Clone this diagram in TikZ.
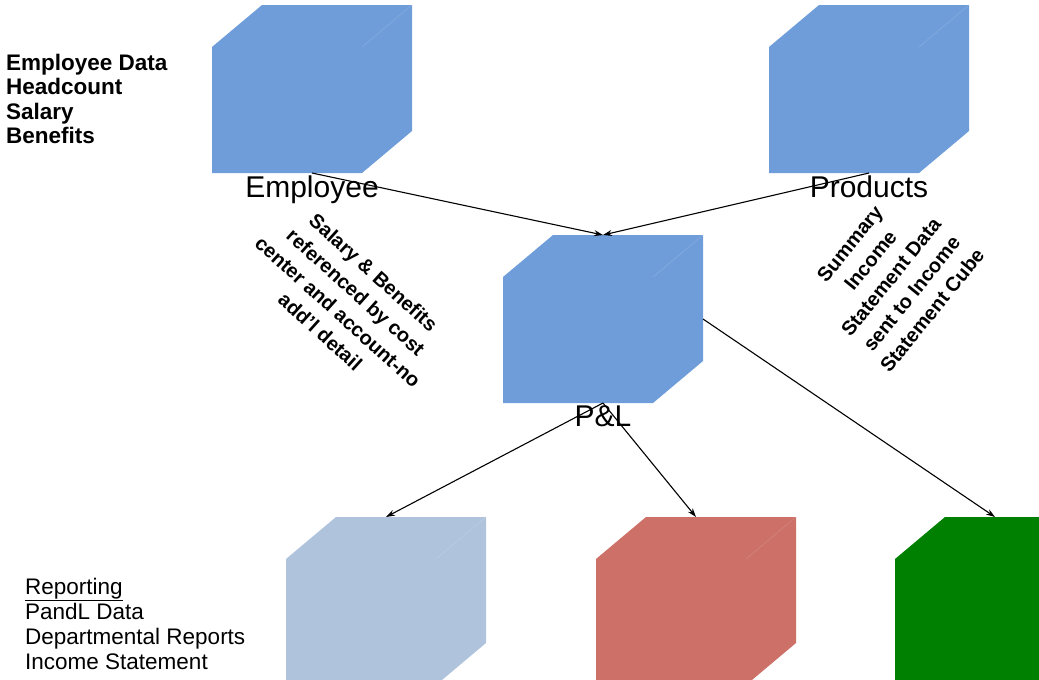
\documentclass[tikz,border=0pt]{standalone}
\usepackage{fontspec}
\setmainfont{Liberation Sans}
\usetikzlibrary{arrows.meta}

\definecolor{cubeblue}{RGB}{111,157,217}
\definecolor{cubesteel}{RGB}{176,195,221}
\definecolor{cubered}{RGB}{204,112,104}
\definecolor{cubegreen}{RGB}{0,128,0}

\tikzset{
    cube/.style={minimum width=200pt, minimum height=168pt, inner sep=0pt, outer sep=0pt,
        path picture={
            \fill[#1] ([xshift=50pt]path picture bounding box.north west)
                -- (path picture bounding box.north east)
                -- ([yshift=42pt]path picture bounding box.south east)
                -- ([xshift=-50pt]path picture bounding box.south east)
                -- (path picture bounding box.south west)
                -- ([yshift=-42pt]path picture bounding box.north west) -- cycle;
            \draw[white, opacity=0.15, line width=0.6pt] (path picture bounding box.north east) -- ++(-50pt,-42pt);
        }},
    flow/.style={draw=black, line width=1.1pt, -{Stealth[length=9pt,width=6pt]}},
    cubelabel/.style={anchor=base, inner sep=0pt, font=\fontsize{30}{36}\selectfont},
    note/.style={align=center, inner sep=0pt, font=\bfseries\fontsize{20}{26.5}\selectfont},
}

\begin{document}
\begin{tikzpicture}[x=1pt,y=-1pt]
    \useasboundingbox (0,0) rectangle (1039,680);
    \clip (0,0) rectangle (1039,680);

    % cubes
    \node[cube=cubeblue] (emp) at (312,89) {};
    \node[cube=cubeblue] (prod) at (869,89) {};
    \node[cube=cubeblue] (pl) at (603,319) {};
    \foreach \n/\x/\c in {rep/386/cubesteel, dept/696/cubered, inc/995/cubegreen}
        \node[cube=\c] (\n) at (\x,601) {};

    % data flow
    \draw[flow] (emp.south) -- (pl.north);
    \draw[flow] (prod.south) -- (pl.north);
    \draw[flow] (pl.south) -- (rep.north);
    \draw[flow] (pl.south) -- (dept.north);
    \draw[flow] (pl.east) -- (inc.north);

    \node[cubelabel] (emplabel) at (312,197) {Employee};
    \node[cubelabel] (prodlabel) at (869,197) {Products};
    \node[cubelabel] (pllabel) at (603,426) {P\&L};

    % notes
    \node[note, rotate=-42] (empnote) at (347,302)
        {Salary \& Benefits\\referenced by cost\\center and account-no\\add'l detail};
    \node[note, rotate=51] (prodnote) at (891,277)
        {Summary\\Income\\Statement Data\\sent to Income\\Statement Cube};

    \node[anchor=north west, align=left, inner sep=0pt, font=\bfseries\fontsize{22.5}{24.3}\selectfont]
        (empdata) at (6,54) {Employee Data\\Headcount\\Salary\\Benefits};
    \node[anchor=north west, align=left, inner sep=0pt, font=\fontsize{22.5}{25}\selectfont]
        (reporting) at (25,578) {\underline{Reporting}\\PandL Data\\Departmental Reports\\Income Statement};
\end{tikzpicture}
\end{document}
